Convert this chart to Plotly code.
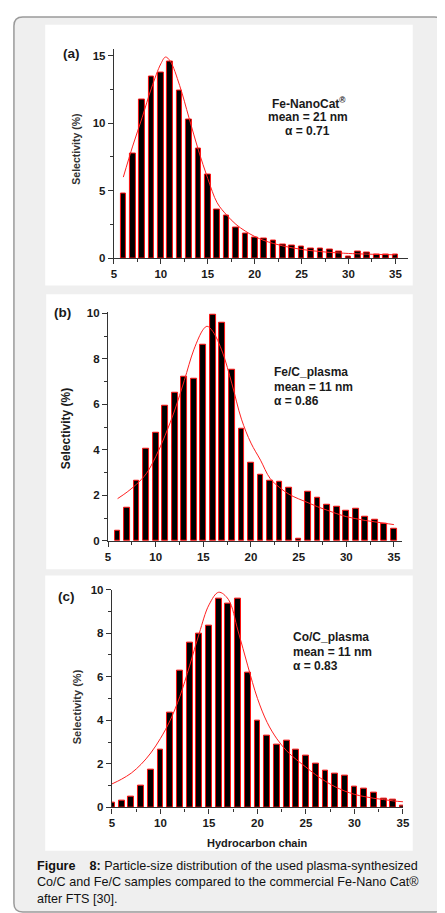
import plotly.graph_objects as go

W, H = 445, 913

# panel (a): Fe-NanoCat
a_chain = list(range(6, 36))
a_sel = [4.8, 7.76, 11.76, 13.46, 13.76, 14.6, 12.44, 10.27, 8.1, 6.2,
         3.56, 3.15, 2.27, 1.83, 1.49, 1.41, 1.27, 1.02, 0.95, 0.88,
         0.68, 0.68, 0.61, 0.51, 0.1, 0.51, 0.44, 0.27, 0.27, 0.27]
a_fit_x = [6, 7, 8, 9, 10, 10.5, 11, 12, 13, 14, 15, 16, 17, 18, 19, 20,
           21, 22, 23, 24, 25, 26, 27, 28, 29, 30, 32, 35]
a_fit_y = [6.0, 8.3, 10.4, 12.6, 14.4, 14.9, 14.6, 12.8, 10.4, 8.0, 5.9,
           4.1, 3.2, 2.5, 2.0, 1.6, 1.3, 1.08, 0.9, 0.76, 0.64, 0.55, 0.48,
           0.42, 0.38, 0.34, 0.29, 0.24]

# panel (b): Fe/C_plasma
b_chain = list(range(6, 36))
b_sel = [0.46, 1.46, 2.63, 4.06, 4.77, 5.95, 6.52, 7.23, 7.14, 8.63,
         9.96, 9.6, 7.54, 4.93, 3.44, 2.89, 2.63, 2.59, 2.36, 0.1,
         2.15, 1.88, 1.6, 1.5, 1.34, 1.4, 1.07, 0.92, 0.74, 0.55]
b_fit_x = [6, 7, 8, 9, 10, 11, 12, 13, 14, 15, 15.4, 16, 17, 18, 19, 20,
           21, 22, 23, 24, 25, 26, 27, 28, 29, 30, 31, 32, 33, 34, 35]
b_fit_y = [1.86, 2.15, 2.5, 2.95, 3.7, 4.65, 5.75, 7.05, 8.4, 9.3, 9.43,
           9.2, 8.3, 6.9, 5.35, 4.3, 3.55, 2.75, 2.35, 2.05, 1.85, 1.68,
           1.5, 1.35, 1.2, 1.07, 0.98, 0.9, 0.84, 0.78, 0.72]

# panel (c): Co/C_plasma
c_chain = list(range(5, 36))
c_sel = [0.21, 0.3, 0.48, 1.0, 1.72, 2.66, 4.34, 6.3, 7.58, 7.96, 8.37,
         9.58, 9.37, 9.58, 6.18, 4.0, 3.28, 2.87, 3.05, 2.66, 2.37, 1.99,
         1.69, 1.54, 1.48, 0.94, 0.86, 0.66, 0.42, 0.36, 0.1]
c_fit_x = list(range(5, 36))
c_fit_y = [1.08, 1.3, 1.58, 1.98, 2.5, 3.17, 4.0, 5.1, 6.5, 8.0, 9.3,
           9.88, 9.55, 8.1, 6.5, 5.0, 3.9, 3.15, 2.6, 2.2, 1.85, 1.5, 1.2,
           0.95, 0.75, 0.6, 0.5, 0.42, 0.36, 0.3, 0.26]

FONT = "Liberation Sans, Arial, sans-serif"
INK = "#1a1a1a"


def px_x(v):
    return v / W


def px_y(v):
    return 1 - v / H


panels = [
    # data, fit, x-domain px, y-domain px, x range, y range, y dtick, minor
    dict(x=a_chain, y=a_sel, fx=a_fit_x, fy=a_fit_y, dx=(105.3, 405.7),
         dy=(35, 247.3), xr=[5, 36.3], yr=[0, 15.53], ydt=5, ymin=2.5),
    dict(x=b_chain, y=b_sel, fx=b_fit_x, fy=b_fit_y, dx=(99.3, 400),
         dy=(301.7, 534), xr=[5, 35.85], yr=[0, 10.07], ydt=2, ymin=1),
    dict(x=c_chain, y=c_sel, fx=c_fit_x, fy=c_fit_y, dx=(103.3, 401),
         dy=(583.3, 804), xr=[5, 35], yr=[0, 10], ydt=2, ymin=1),
]

fig = go.Figure()
layout = {}
for i, p in enumerate(panels, start=1):
    sx = "" if i == 1 else str(i)
    fig.add_trace(go.Bar(
        x=p["x"], y=p["y"], width=0.6,
        marker=dict(color="black", line=dict(color="#ff1010", width=1)),
        xaxis="x" + sx, yaxis="y" + sx, showlegend=False,
    ))
    fig.add_trace(go.Scatter(
        x=p["fx"], y=p["fy"], mode="lines",
        line=dict(color="#ff2020", width=1, shape="spline"),
        xaxis="x" + sx, yaxis="y" + sx, showlegend=False,
    ))
    tickfont = dict(family=FONT, size=11.5, color=INK, weight="bold")
    layout["xaxis" + sx] = dict(
        domain=[px_x(p["dx"][0]), px_x(p["dx"][1])], range=p["xr"],
        anchor="y" + sx, tick0=5, dtick=5, ticks="outside", ticklen=5,
        tickwidth=1.2, tickcolor="#333", showline=True, linecolor="#333",
        linewidth=1.3, showgrid=False, zeroline=False, tickfont=tickfont,
        minor=dict(dtick=2.5, ticks="outside", ticklen=3, tickcolor="#333"),
    )
    layout["yaxis" + sx] = dict(
        domain=[px_y(p["dy"][1]), px_y(p["dy"][0])], range=p["yr"],
        anchor="x" + sx, tick0=0, dtick=p["ydt"], ticks="outside",
        ticklen=5, tickwidth=1.2, tickcolor="#333", showline=True,
        linecolor="#333", linewidth=1.3, showgrid=False, zeroline=False,
        tickfont=tickfont,
        minor=dict(dtick=p["ymin"], ticks="outside", ticklen=3,
                   tickcolor="#333"),
    )

shapes = [
    # outer rounded frame
    dict(type="path", xref="paper", yref="paper",
         path="M %f %f L %f %f Q %f %f %f %f L %f %f Q %f %f %f %f "
              "L %f %f Q %f %f %f %f L %f %f Q %f %f %f %f Z" % (
                  px_x(12), px_y(3), px_x(433), px_y(3), px_x(442), px_y(3),
                  px_x(442), px_y(12), px_x(442), px_y(901), px_x(442),
                  px_y(910), px_x(433), px_y(910), px_x(12), px_y(910),
                  px_x(3), px_y(910), px_x(3), px_y(901), px_x(3), px_y(12),
                  px_x(3), px_y(3), px_x(12), px_y(3)),
         fillcolor="#efefef", line=dict(color="#9a9a9a", width=1.5),
         layer="below"),
]
for box in [(35, 11, 411, 275), (36, 284, 411, 562.7), (35, 569, 411, 848)]:
    shapes.append(dict(type="rect", xref="paper", yref="paper",
                       x0=px_x(box[0]), x1=px_x(box[2]),
                       y0=px_y(box[3]), y1=px_y(box[1]),
                       fillcolor="white", line=dict(width=0), layer="below"))


def note(text, x, y, size=12, bold=True, xanchor="center", angle=0,
         color=INK):
    return dict(text=text, x=px_x(x), y=px_y(y), xref="paper", yref="paper",
                showarrow=False, xanchor=xanchor, yanchor="middle",
                textangle=angle,
                font=dict(family=FONT, size=size, color=color,
                          weight="bold" if bold else "normal"))


annotations = [
    note("(a)", 62, 40, size=13.5),
    note("(b)", 53, 302.7, size=13.5),
    note("(c)", 57, 590, size=13.5),
    note("Fe-NanoCat<sup>®</sup>", 305, 90),
    note("mean = 21 nm", 304, 104.3),
    note("α = 0.71", 303, 118.3),
    note("Fe/C_plasma", 266.7, 362.7, xanchor="left"),
    note("mean = 11 nm", 266.7, 377.7, xanchor="left"),
    note("α = 0.86", 266.7, 392.3, xanchor="left"),
    note("Co/C_plasma", 286, 631, xanchor="left"),
    note("mean = 11 nm", 286, 646, xanchor="left"),
    note("α = 0.83", 286, 660.3, xanchor="left"),
    note("Selectivity (%)", 67, 137, size=10.5, angle=-90, color="#333"),
    note("Selectivity (%)", 57, 420, size=12, angle=-90),
    note("Selectivity (%)", 67, 702, size=11, angle=-90, color="#333"),
    note("Hydrocarbon chain", 252, 840, size=11),
    note("<b>Figure    8:</b> Particle-size distribution of the used "
         "plasma-synthesized", 25, 863.3, size=12.6, bold=False,
         xanchor="left", color="#111"),
    note("Co/C and Fe/C samples compared to the commercial Fe-Nano Cat®",
         25, 880, size=12.6, bold=False, xanchor="left", color="#111"),
    note("after FTS [30].", 25, 896.7, size=12.6, bold=False,
         xanchor="left", color="#111"),
]

fig.update_layout(
    width=W, height=H, margin=dict(l=0, r=0, t=0, b=0),
    paper_bgcolor="white", plot_bgcolor="rgba(0,0,0,0)",
    shapes=shapes, annotations=annotations, bargap=0, **layout,
)

fig.write_html("out.html")
